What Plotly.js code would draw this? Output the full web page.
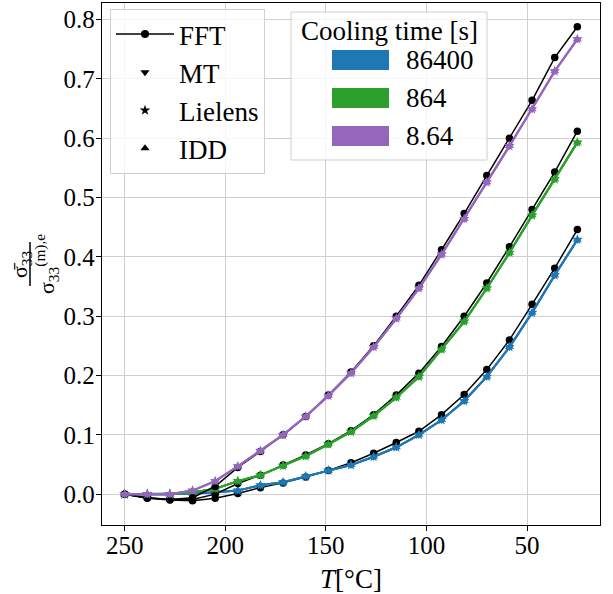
<!DOCTYPE html>
<html>
<head>
<meta charset="utf-8">
<script src="https://cdn.plot.ly/plotly-3.0.1.min.js"></script>
<style>html,body{margin:0;padding:0;background:#fff;}#chart{width:613px;height:594px;}</style>
</head>
<body>
<div id="chart"></div>
<script>
// Temperature [°C]
const T = [250, 238.75, 227.5, 216.25, 205, 193.75, 182.5, 171.25, 160, 148.75, 137.5,
           126.25, 115, 103.75, 92.5, 81.25, 70, 58.75, 47.5, 36.25, 25];

// Axis ticks
const xTicks = [250, 200, 150, 100, 50];
const yTicks = [0, 0.1, 0.2, 0.3, 0.4, 0.5, 0.6, 0.7, 0.8];

// Cooling time labels and colours
const coolingTimes = ["86400", "864", "8.64"];
const coolingColors = ["#1f77b4", "#2ca02c", "#9467bd"];
const legendTitle = "Cooling time [s]";

// FFT reference values
const fft_86400 = [0, -0.007, -0.010, -0.011, -0.007, 0.001, 0.011, 0.019, 0.029, 0.040, 0.053,
                   0.069, 0.087, 0.106, 0.134, 0.168, 0.210, 0.260, 0.320, 0.381, 0.446];
const fft_864   = [0, -0.006, -0.009, -0.009, 0.000, 0.018, 0.032, 0.049, 0.066, 0.085, 0.107,
                   0.134, 0.167, 0.204, 0.249, 0.300, 0.356, 0.417, 0.480, 0.543, 0.612];
const fft_8_64  = [0, -0.006, -0.009, -0.006, 0.013, 0.045, 0.072, 0.100, 0.131, 0.167, 0.206,
                   0.250, 0.300, 0.352, 0.412, 0.473, 0.537, 0.600, 0.664, 0.736, 0.788];

// Mean-field model values (MT, Lielens, IDD coincide at this scale)
const mt_86400 = [0, 0, 0, 0.001, 0.003, 0.006, 0.015, 0.020, 0.030, 0.040, 0.049,
                  0.063, 0.079, 0.100, 0.125, 0.157, 0.198, 0.248, 0.306, 0.369, 0.429];
const mt_864   = [0, 0, 0, 0.003, 0.009, 0.022, 0.032, 0.048, 0.064, 0.084, 0.105,
                  0.132, 0.163, 0.198, 0.244, 0.291, 0.347, 0.407, 0.470, 0.531, 0.593];
const mt_8_64  = [0, 0, 0, 0.006, 0.022, 0.047, 0.073, 0.100, 0.131, 0.166, 0.204,
                  0.248, 0.296, 0.347, 0.404, 0.464, 0.526, 0.587, 0.649, 0.713, 0.767];
const lielens_86400 = mt_86400, lielens_864 = mt_864, lielens_8_64 = mt_8_64;
const idd_86400 = mt_86400, idd_864 = mt_864, idd_8_64 = mt_8_64;

const fftSets = [fft_86400, fft_864, fft_8_64];
const modelSets = [
  {name: "MT", symbol: "triangle-down", data: [mt_86400, mt_864, mt_8_64]},
  {name: "Lielens", symbol: "star", data: [lielens_86400, lielens_864, lielens_8_64]},
  {name: "IDD", symbol: "triangle-up", data: [idd_86400, idd_864, idd_8_64]}
];

const FONT = "Liberation Serif, Times New Roman, serif";
const traces = [];

for (let i = 0; i < 3; i++) {
  traces.push({
    x: T, y: fftSets[i], type: "scatter", mode: "lines+markers",
    line: {color: "black", width: 1.5},
    marker: {color: "black", size: 7.5, symbol: "circle"},
    showlegend: false, hoverinfo: "skip"
  });
  modelSets.forEach(m => {
    traces.push({
      x: T, y: m.data[i], type: "scatter", mode: "lines+markers",
      line: {color: coolingColors[i], width: 2},
      marker: {color: coolingColors[i], size: 8, symbol: m.symbol},
      showlegend: false, hoverinfo: "skip"
    });
  });
}

// Legend 1: methods
traces.push({x: [null], y: [null], type: "scatter", mode: "lines+markers", name: "FFT",
  line: {color: "black", width: 1.5}, marker: {color: "black", size: 8, symbol: "circle"},
  legendgroup: "g1"});
modelSets.forEach((m, k) => {
  traces.push({x: [null], y: [null], type: "scatter", mode: "markers", name: m.name,
    marker: {color: "black", size: 8, symbol: m.symbol},
    legendgroup: "g" + (k + 2)});
});

const L = 102, R = 13, TOP = 3, B = 69;
const plotW = 613 - L - R, plotH = 594 - TOP - B;
const X = p => (p - L) / plotW;
const Y = p => (594 - B - p) / plotH;

const shapes = [{
  type: "line", xref: "paper", yref: "paper",
  x0: X(30), x1: X(30), y0: Y(242), y1: Y(286),
  line: {color: "black", width: 1.5}
}];
const annotations = [
  {xref: "paper", yref: "paper", x: X(21), y: Y(264), xanchor: "center", yanchor: "middle",
   text: "σ̄<sub>33</sub>", textangle: -90, showarrow: false, font: {family: FONT, size: 22}},
  {xref: "paper", yref: "paper", x: X(46), y: Y(264), xanchor: "center", yanchor: "middle",
   text: "σ<sub>33</sub><sup>(m),e</sup>", textangle: -90, showarrow: false, font: {family: FONT, size: 22}}
];
// Legend 2 (cooling time): box, title, colour patches and labels
shapes.push({
  type: "rect", xref: "paper", yref: "paper",
  x0: X(291), x1: X(487), y0: Y(160), y1: Y(12),
  fillcolor: "rgba(255,255,255,0.8)", line: {color: "#d0d0d0", width: 1}, layer: "above"
});
annotations.push({xref: "paper", yref: "paper", x: X(389), y: Y(31), xanchor: "center", yanchor: "middle",
  text: legendTitle, showarrow: false, font: {family: FONT, size: 27}});
coolingTimes.forEach((c, i) => {
  const yc = 60 + i * 38;
  shapes.push({
    type: "rect", xref: "paper", yref: "paper",
    x0: X(332), x1: X(389), y0: Y(yc + 10), y1: Y(yc - 10),
    fillcolor: coolingColors[i], line: {color: coolingColors[i], width: 0}, layer: "above"
  });
  annotations.push({xref: "paper", yref: "paper", x: X(404), y: Y(yc), xanchor: "left", yanchor: "middle",
    text: c, showarrow: false, font: {family: FONT, size: 27}});
});

const layout = {
  width: 613, height: 594,
  margin: {l: L, r: R, t: TOP, b: B},
  paper_bgcolor: "white", plot_bgcolor: "white",
  font: {family: FONT, size: 25, color: "black"},
  showlegend: true,
  xaxis: {
    range: [261.25, 13.75], tickvals: xTicks,
    ticks: "outside", ticklen: 5, tickcolor: "black", tickwidth: 1,
    showline: true, mirror: true, linecolor: "black", linewidth: 1.2,
    showgrid: true, gridcolor: "#cfcfcf", gridwidth: 1, zeroline: false,
    tickfont: {family: FONT, size: 25},
    title: {text: "<i>T</i>[°C]", font: {family: FONT, size: 27}, standoff: 4}
  },
  yaxis: {
    range: [-0.052, 0.828], tickvals: yTicks, tickformat: ".1f",
    ticks: "outside", ticklen: 5, tickcolor: "black", tickwidth: 1,
    showline: true, mirror: true, linecolor: "black", linewidth: 1.2,
    showgrid: true, gridcolor: "#cfcfcf", gridwidth: 1, zeroline: false,
    tickfont: {family: FONT, size: 25}
  },
  legend: {
    x: X(110), y: Y(9), xanchor: "left", yanchor: "top",
    bgcolor: "rgba(255,255,255,0.8)", bordercolor: "#d0d0d0", borderwidth: 1,
    font: {family: FONT, size: 27}, tracegroupgap: 0, traceorder: "grouped",
    itemwidth: 58
  },
  shapes: shapes,
  annotations: annotations
};

const gd = document.getElementById("chart");
Plotly.newPlot(gd, traces, layout, {displayModeBar: false, staticPlot: true});
// pull the tick labels a little closer to the axes, as in the reference
function nudgeLabels() {
  gd.querySelectorAll("g.xtick text").forEach(t => {
    if (!t.dataset.n) { t.dataset.n = 1; t.setAttribute("transform", (t.getAttribute("transform") || "") + " translate(0,-7)"); }
  });
  gd.querySelectorAll("g.ytick text").forEach(t => {
    if (!t.dataset.n) { t.dataset.n = 1; t.setAttribute("transform", (t.getAttribute("transform") || "") + " translate(4,0)"); }
  });
}
nudgeLabels();
</script>
</body>
</html>
